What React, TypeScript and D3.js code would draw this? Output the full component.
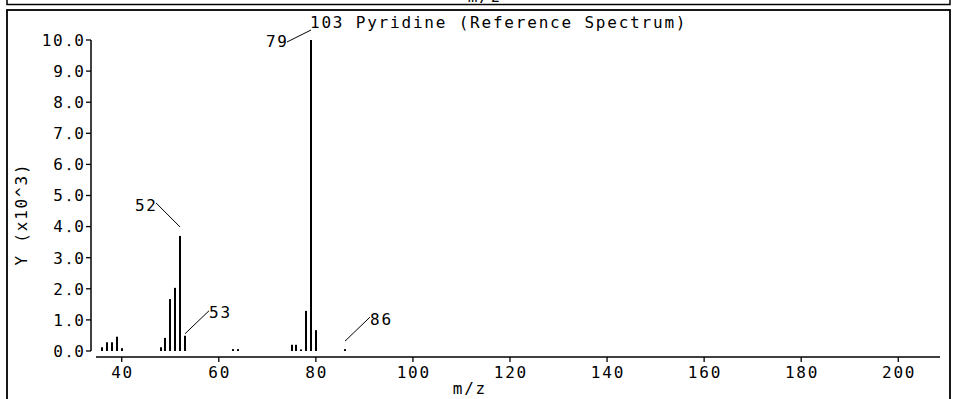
import React from "react";
import * as d3 from "d3";

const mzValues = [36, 37, 38, 39, 40, 48, 49, 50, 51, 52, 53, 63, 64, 75, 76, 77, 78, 79, 80, 86];
const intensities = [0.12, 0.28, 0.28, 0.46, 0.09, 0.12, 0.42, 1.67, 2.03, 3.7, 0.49, 0.06, 0.06, 0.2, 0.2, 0.05, 1.29, 10.0, 0.67, 0.06];
const annotatedMz = [79, 52, 53, 86];
const annotatedLabels = ["79", "52", "53", "86"];
const yTickValues = [0, 1, 2, 3, 4, 5, 6, 7, 8, 9, 10];
const xTickValues = [40, 60, 80, 100, 120, 140, 160, 180, 200];
const title = "103 Pyridine (Reference Spectrum)";
const xLabel = "m/z";
const yLabel = "Y (x10^3)";

const W = 955;
const H = 399;
const FONT = "'DejaVu Sans Mono', monospace";
const FS = 16;
const LS = 1.8;

// leader layout per label: gap above bar top, dx, dy, anchor, text dy
const leaderLayout: Record<string, { gap: number; dx: number; dy: number; anchor: "start" | "end"; ty: number }> = {
  "79": { gap: 10, dx: -24, dy: 12, anchor: "end", ty: 5 },
  "52": { gap: 9, dx: -24, dy: -24, anchor: "end", ty: 8 },
  "53": { gap: 2, dx: 24, dy: -23, anchor: "start", ty: 7 },
  "86": { gap: 8, dx: 25, dy: -24, anchor: "start", ty: 8 },
};

export default function App() {
  const x = d3.scaleLinear().domain([34.7, 208.6]).range([96, 940]);
  const y = d3.scaleLinear().domain([0, 10]).range([351, 40]);
  const axisX = 91;
  const xAxisY = 357;

  const txt = { fontFamily: FONT, fontSize: FS, letterSpacing: LS, fill: "#000" } as const;

  return (
    <svg width={W} height={H} style={{ position: "absolute", left: 0, top: 0, background: "#fff" }}>
      <rect x={0} y={0} width={W} height={H} fill="#fff" />
      {/* remnant of previous panel */}
      <text x={484 + LS / 2} y={2} textAnchor="middle" {...txt}>{xLabel}</text>
      <rect x={7} y={-10} width={943} height={14.5} fill="none" stroke="#000" strokeWidth={1.5} />
      {/* frame */}
      <rect x={7} y={10} width={943} height={H + 20} fill="none" stroke="#000" strokeWidth={1.8} />

      {/* title */}
      <text x={310} y={28} {...txt}>{title}</text>

      {/* y axis */}
      <line x1={axisX} x2={axisX} y1={y(10)} y2={y(0)} stroke="#000" strokeWidth={1.5} />
      {yTickValues.map((v) => (
        <g key={v}>
          <line x1={axisX - 5} x2={axisX} y1={y(v)} y2={y(v)} stroke="#000" strokeWidth={1.3} />
          <text x={84 + LS} y={y(v) + 5.8} textAnchor="end" {...txt}>{v.toFixed(1).replace(".", "\u2024")}</text>
        </g>
      ))}
      <text
        transform={`translate(26.5,${215}) rotate(-90)`}
        x={LS / 2}
        y={0}
        textAnchor="middle"
        {...txt}
      >
        {yLabel}
      </text>

      {/* x axis */}
      <line x1={96} x2={940} y1={xAxisY} y2={xAxisY} stroke="#000" strokeWidth={1.7} />
      {xTickValues.map((v) => (
        <g key={v}>
          <line x1={x(v)} x2={x(v)} y1={xAxisY} y2={xAxisY + 5} stroke="#000" strokeWidth={1.3} />
          <text x={x(v) + LS / 2} y={378} textAnchor="middle" {...txt}>{String(v)}</text>
        </g>
      ))}
      <text x={469 + LS / 2} y={394} textAnchor="middle" {...txt}>{xLabel}</text>

      {/* bars */}
      {mzValues.map((m, i) => (
        <rect
          key={m}
          x={Math.round(x(m)) - 1}
          y={y(intensities[i])}
          width={2}
          height={Math.max(1.5, y(0) - y(intensities[i]))}
          fill="#000"
        />
      ))}

      {/* annotations */}
      {annotatedMz.map((m, i) => {
        const lab = annotatedLabels[i];
        const L = leaderLayout[lab];
        const idx = mzValues.indexOf(m);
        const bx = Math.round(x(m));
        const top = y(intensities[idx]) - L.gap;
        const ex = bx + L.dx;
        const ey = top + L.dy;
        const tx = L.anchor === "end" ? ex + LS : ex;
        return (
          <g key={lab}>
            <line x1={bx} y1={top} x2={ex} y2={ey} stroke="#000" strokeWidth={1} />
            <text x={tx} y={ey + L.ty} textAnchor={L.anchor} {...txt}>{lab}</text>
          </g>
        );
      })}
    </svg>
  );
}
